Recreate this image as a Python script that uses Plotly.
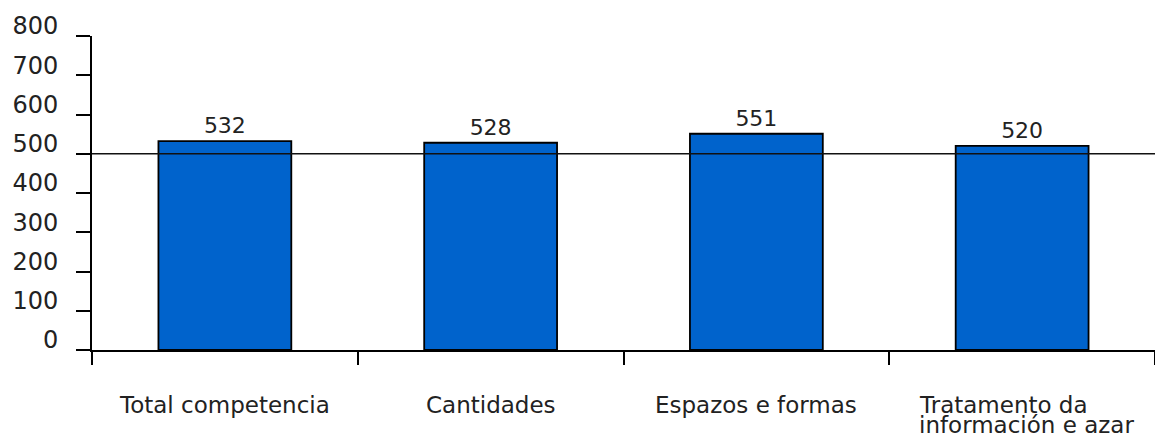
import plotly.graph_objects as go

categories = ["Total competencia", "Cantidades", "Espazos e formas",
              "Tratamento da\ninformación e azar"]
values = [532, 528, 551, 520]
y_ticks = [0, 100, 200, 300, 400, 500, 600, 700, 800]
reference_level = 500

FONT = "DejaVu Sans"
TEXT_COLOR = "#222222"
FS = 23

fig = go.Figure()
fig.add_trace(go.Bar(
    x=list(range(len(categories))),
    y=values,
    marker=dict(color="#0063CC", line=dict(color="#000000", width=1.8)),
    text=[str(v) for v in values],
    textposition="outside",
    textfont=dict(family=FONT, size=22, color=TEXT_COLOR),
    cliponaxis=False,
    showlegend=False,
    hoverinfo="skip",
))

fig.add_shape(type="line", xref="paper", yref="y", x0=0, x1=1,
              y0=reference_level, y1=reference_level,
              line=dict(color="#111111", width=1.5), layer="above")

annotations = []
for i, lab in enumerate(categories):
    lines = lab.split("\n")
    for j, ln in enumerate(lines):
        ann = dict(x=i, xref="x", y=0, yref="paper", yanchor="middle",
                   xanchor="center", yshift=-55 - 20 * j, text=ln,
                   showarrow=False, borderpad=0,
                   font=dict(family=FONT, size=FS, color=TEXT_COLOR))
        if len(lines) > 1:
            ann["width"] = 222
            ann["align"] = "left"
            ann["xshift"] = 8
        annotations.append(ann)

fig.update_layout(
    width=1155, height=437,
    margin=dict(l=92, r=0, t=36, b=87, autoexpand=False),
    paper_bgcolor="white", plot_bgcolor="white",
    bargap=0.5,
    annotations=annotations,
    xaxis=dict(
        type="linear", range=[-0.5, len(categories) - 0.5],
        tickmode="array",
        tickvals=[i - 0.5 for i in range(len(categories) + 1)],
        showticklabels=False, automargin=False,
        ticks="outside", ticklen=13, tickwidth=2, tickcolor="#000000",
        showline=True, linewidth=2, linecolor="#000000",
        showgrid=False, zeroline=False,
    ),
    yaxis=dict(
        range=[0, 800], tickmode="array", tickvals=y_ticks,
        ticktext=[str(t) for t in y_ticks], automargin=False,
        ticks="outside", ticklen=14, tickwidth=2, tickcolor="#000000",
        showline=True, linewidth=2, linecolor="#000000",
        showgrid=False, zeroline=False,
        tickfont=dict(family=FONT, size=24, color=TEXT_COLOR),
        ticklabelstandoff=13, ticklabelshift=-10,
    ),
)

fig.write_html(
    "out.html",
    config={"displayModeBar": False},
    post_script="document.body.style.margin='0';document.body.style.overflow='hidden';",
)
